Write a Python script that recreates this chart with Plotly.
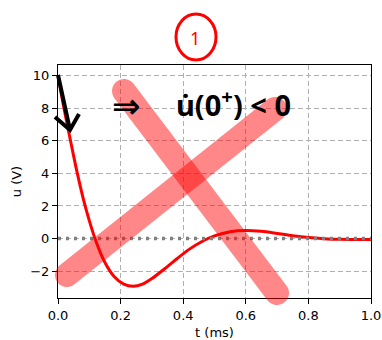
import plotly.graph_objects as go
import math

# ---- data ----
t_ms = [0.0, 0.02, 0.04, 0.06, 0.08, 0.10, 0.12, 0.15, 0.18, 0.21, 0.24, 0.27,
        0.30, 0.34, 0.38, 0.42, 0.46, 0.50, 0.55, 0.60, 0.65, 0.70, 0.75, 0.80,
        0.85, 0.90, 0.95, 1.0]
u_V = [10.0, 7.9, 6.0, 4.15, 2.5, 1.1, -0.1, -1.47, -2.35, -2.8, -2.93, -2.8,
       -2.46, -1.87, -1.24, -0.65, -0.18, 0.16, 0.42, 0.5, 0.44, 0.31, 0.17, 0.06,
       -0.01, -0.05, -0.06, -0.06]
x_ticks = [0.0, 0.2, 0.4, 0.6, 0.8, 1.0]
y_ticks = [-2, 0, 2, 4, 6, 8, 10]
baseline = 0

# ---- layout geometry ----
W, H = 382, 340
ML, MR, MT, MB = 58, 11, 65, 42
PW, PH = W - ML - MR, H - MT - MB


def px(xp, yp):
    """pixel position in the page -> paper coordinates (for hand annotations)"""
    return (xp - ML) / PW, (H - MB - yp) / PH


def capsule(p0, p1, r, n=16):
    (x0, y0), (x1, y1) = p0, p1
    ang = math.atan2(y1 - y0, x1 - x0)
    pts = []
    for i in range(n + 1):
        a = ang - math.pi / 2 + math.pi * i / n
        pts.append((x1 + r * math.cos(a), y1 + r * math.sin(a)))
    for i in range(n + 1):
        a = ang + math.pi / 2 + math.pi * i / n
        pts.append((x0 + r * math.cos(a), y0 + r * math.sin(a)))
    d = ""
    for i, (a, b) in enumerate(pts):
        xp, yp = px(a, b)
        d += ("M" if i == 0 else "L") + f"{xp:.4f},{yp:.4f} "
    return d + "Z"


fig = go.Figure()
fig.add_trace(go.Scatter(x=t_ms, y=u_V, mode="lines",
                         line=dict(color="#ff0000", width=3, shape="spline", smoothing=0.8),
                         hoverinfo="skip", showlegend=False))
fig.add_hline(y=baseline, line=dict(color="#808080", width=3.5, dash="3px,5px"), layer="above")

font = dict(family="DejaVu Sans", size=13, color="black")
axis_common = dict(showline=True, mirror=True, linecolor="black", linewidth=1,
                   ticks="outside", ticklen=5, tickwidth=1, tickcolor="black",
                   showgrid=True, gridcolor="#b0b0b0", griddash="5px,3px", gridwidth=1,
                   zeroline=False, tickfont=font, automargin=False)

fig.update_layout(
    width=W, height=H, margin=dict(l=ML, r=MR, t=MT, b=MB, autoexpand=False),
    paper_bgcolor="white", plot_bgcolor="white", font=font, showlegend=False,
    xaxis=dict(range=[0, 1], tickvals=x_ticks, ticktext=[f"{v:.1f}" for v in x_ticks],
               title=dict(text="t (ms)", font=font, standoff=7), **axis_common),
    yaxis=dict(range=[-3.65, 10.65], tickvals=y_ticks,
               title=dict(text="u (V)", font=font, standoff=5), **axis_common),
)

# ---- hand-drawn annotations ----
pink = "rgba(255,0,0,0.47)"
fig.add_shape(type="path", xref="paper", yref="paper", path=capsule((124, 91), (277, 293), 12),
              fillcolor=pink, line=dict(width=0), layer="above")
fig.add_shape(type="path", xref="paper", yref="paper", path=capsule((67, 275), (275, 109), 12),
              fillcolor=pink, line=dict(width=0), layer="above")

# black arrow
a0 = px(58, 75); a1 = px(70, 130); l1 = px(55, 117); r1 = px(79, 114)
arrow_path = (f"M{a0[0]:.4f},{a0[1]:.4f} L{a1[0]:.4f},{a1[1]:.4f} "
              f"M{l1[0]:.4f},{l1[1]:.4f} L{a1[0]:.4f},{a1[1]:.4f} L{r1[0]:.4f},{r1[1]:.4f}")
fig.add_shape(type="path", xref="paper", yref="paper", path=arrow_path,
              line=dict(color="black", width=4), layer="above")

hand = dict(family="Noto Sans", size=29, color="black", weight="bold")
ix, iy = px(126, 106)
fig.add_annotation(xref="paper", yref="paper", x=ix, y=iy, xanchor="center", yanchor="middle",
                   showarrow=False, text="⇒",
                   font=dict(family="DejaVu Sans", size=34, color="black", weight="bold"))
tx, ty = px(233, 103)
fig.add_annotation(xref="paper", yref="paper", x=tx, y=ty, xanchor="center", yanchor="middle",
                   showarrow=False, text="u̇(0<sup>+</sup>) < 0", font=hand)

# circled "1"
c0 = px(176, 14); c1 = px(216, 60)
fig.add_shape(type="circle", xref="paper", yref="paper", x0=c0[0], y0=c1[1], x1=c1[0], y1=c0[1],
              line=dict(color="#ff0000", width=3))
ox, oy = px(195, 38)
fig.add_annotation(xref="paper", yref="paper", x=ox, y=oy, xanchor="center", yanchor="middle",
                   showarrow=False, text="1",
                   font=dict(family="Noto Sans", size=18, color="#ff0000"))

fig.write_html("out.html", config={"displayModeBar": False},
               post_script="document.body.style.margin='0';")
